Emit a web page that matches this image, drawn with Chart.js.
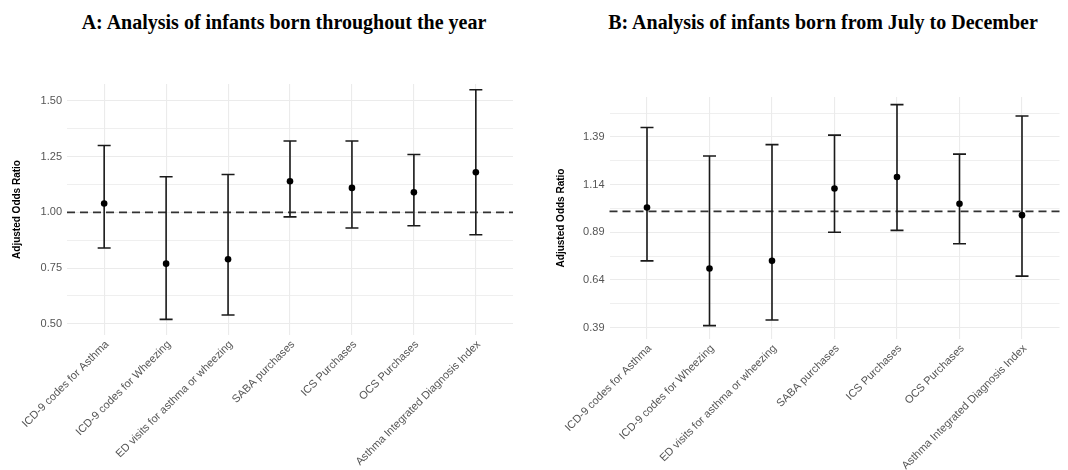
<!DOCTYPE html>
<html>
<head>
<meta charset="utf-8">
<script src="https://cdn.jsdelivr.net/npm/chart.js@4.4.0/dist/chart.umd.min.js"></script>
<style>
  html, body { margin: 0; padding: 0; background: #fff; }
  #wrap { position: relative; width: 1068px; height: 470px; overflow: hidden; }
  .title {
    position: absolute; top: 11px; transform: translateX(-50%);
    font: bold 20px "Liberation Serif", "Times New Roman", serif;
    line-height: 22px; color: #000; white-space: nowrap;
  }
  .box { position: absolute; top: 0; width: 534px; height: 470px; }
</style>
</head>
<body>
<div id="wrap">
  <div class="title" style="left:284px">A: Analysis of infants born throughout the year</div>
  <div class="title" style="left:823px">B: Analysis of infants born from July to December</div>
  <div class="box" style="left:0"><canvas id="chartA" width="534" height="470"></canvas></div>
  <div class="box" style="left:534px"><canvas id="chartB" width="534" height="470"></canvas></div>
</div>
<script>
// outcomes on the x axis (same for both panels)
const categories = [
  "ICD-9 codes for Asthma",
  "ICD-9 codes for Wheezing",
  "ED visits for asthma or wheezing",
  "SABA purchases",
  "ICS Purchases",
  "OCS Purchases",
  "Asthma Integrated Diagnosis Index"
];

// panel A: whole year
const orA    = [1.04, 0.77, 0.79, 1.14, 1.11, 1.09, 1.18];
const lowerA = [0.84, 0.52, 0.54, 0.98, 0.93, 0.94, 0.90];
const upperA = [1.30, 1.16, 1.17, 1.32, 1.32, 1.26, 1.55];

// panel B: July to December
const orB    = [1.02, 0.70, 0.74, 1.12, 1.18, 1.04, 0.98];
const lowerB = [0.74, 0.40, 0.43, 0.89, 0.90, 0.83, 0.66];
const upperB = [1.44, 1.29, 1.35, 1.40, 1.56, 1.30, 1.50];

const yTicksA = [0.50, 0.75, 1.00, 1.25, 1.50];
const yTickLabelsA = ["0.50", "0.75", "1.00", "1.25", "1.50"];
const yTicksB = [0.39, 0.64, 0.89, 1.14, 1.39];
const yTickLabelsB = ["0.39", "0.64", "0.89", "1.14", "1.39"];

const refLine = 1;

Chart.defaults.font.family = '"Liberation Sans", Arial, sans-serif';

// whiskers + reference line, drawn under the points
const errorBars = {
  id: "errorBars",
  beforeDatasetsDraw(chart, args, opts) {
    const { ctx, chartArea } = chart;
    const xs = chart.scales.x, ys = chart.scales.y;
    ctx.save();
    // dashed line at OR = 1
    const yr = ys.getPixelForValue(opts.ref);
    ctx.strokeStyle = "#333";
    ctx.lineWidth = 1.6;
    ctx.setLineDash([8, 5]);
    ctx.beginPath();
    ctx.moveTo(chartArea.left, yr);
    ctx.lineTo(chartArea.right, yr);
    ctx.stroke();
    ctx.setLineDash([]);

    ctx.strokeStyle = "#1a1a1a";
    ctx.lineWidth = 1.6;
    const cap = opts.cap || 6;
    opts.lower.forEach((lo, i) => {
      const x = xs.getPixelForValue(i);
      const y1 = ys.getPixelForValue(lo);
      const y2 = ys.getPixelForValue(opts.upper[i]);
      ctx.beginPath();
      ctx.moveTo(x, y1); ctx.lineTo(x, y2);
      ctx.moveTo(x - cap, y1); ctx.lineTo(x + cap, y1);
      ctx.moveTo(x - cap, y2); ctx.lineTo(x + cap, y2);
      ctx.stroke();
    });
    ctx.restore();
  }
};

function makeChart(id, est, lower, upper, yTicks, yLabels, yMin, yMax, geo) {
  const isMajor = v => yTicks.some(t => Math.abs(t - v) < 1e-6);
  return new Chart(document.getElementById(id), {
    type: "scatter",
    data: {
      datasets: [{
        data: est.map((v, i) => ({ x: i, y: v })),
        pointRadius: 3.3,
        pointHoverRadius: 3.3,
        pointBackgroundColor: "#000",
        pointBorderWidth: 0
      }]
    },
    options: {
      responsive: false,
      animation: false,
      events: [],
      layout: { padding: { top: geo.top, right: geo.right, left: 0, bottom: 0 } },
      plugins: {
        legend: { display: false },
        tooltip: { enabled: false },
        errorBars: { lower: lower, upper: upper, ref: refLine, cap: 6.5 }
      },
      scales: {
        x: {
          type: "linear",
          min: -0.6,
          max: categories.length - 0.4,
          afterBuildTicks: s => { s.ticks = categories.map((c, i) => ({ value: i })); },
          afterFit: s => { s.height = geo.xh; s.paddingLeft = 0; s.paddingRight = 0; },
          ticks: {
            callback: v => categories[v],
            autoSkip: false,
            minRotation: 45,
            maxRotation: 45,
            padding: 3,
            labelOffset: 3,
            color: "#555",
            font: { size: 11 }
          },
          grid: { color: "#ebebeb", lineWidth: 1.1, drawTicks: false },
          border: { display: false }
        },
        y: {
          min: yMin,
          max: yMax,
          afterBuildTicks: s => {
            const vals = yTicks.slice();
            const step = yTicks[1] - yTicks[0];
            for (let i = 0; i < yTicks.length; i++) {
              const lo = yTicks[i] - step / 2, hi = yTicks[i] + step / 2;
              if (lo > yMin && !vals.some(v => Math.abs(v - lo) < 1e-6)) vals.push(lo);
              if (hi < yMax && !vals.some(v => Math.abs(v - hi) < 1e-6)) vals.push(hi);
            }
            vals.sort((a, b) => a - b);
            s.ticks = vals.map(v => ({ value: v }));
          },
          afterFit: s => { s.width = geo.yw; s.paddingTop = 0; s.paddingBottom = 0; },
          ticks: {
            callback: v => {
              const k = yTicks.findIndex(t => Math.abs(t - v) < 1e-6);
              return k >= 0 ? yLabels[k] : "";
            },
            padding: 5,
            color: "#555",
            font: { size: 11 }
          },
          title: {
            display: true,
            text: "Adjusted Odds Ratio",
            color: "#000",
            font: { size: 10, weight: "bold" },
            padding: { top: geo.tp, bottom: 0 }
          },
          grid: {
            color: "#ebebeb",
            lineWidth: c => isMajor(c.tick.value) ? 1.1 : 0.8,
            drawTicks: false
          },
          border: { display: false }
        }
      }
    },
    plugins: [errorBars]
  });
}

makeChart("chartA", orA, lowerA, upperA, yTicksA, yTickLabelsA, 0.45, 1.576,
  { top: 84, right: 21, yw: 67, xh: 135, tp: 11 });
makeChart("chartB", orB, lowerB, upperB, yTicksB, yTickLabelsB, 0.33, 1.60,
  { top: 97, right: 8.5, yw: 75.5, xh: 131, tp: 21.7 });
</script>
</body>
</html>
